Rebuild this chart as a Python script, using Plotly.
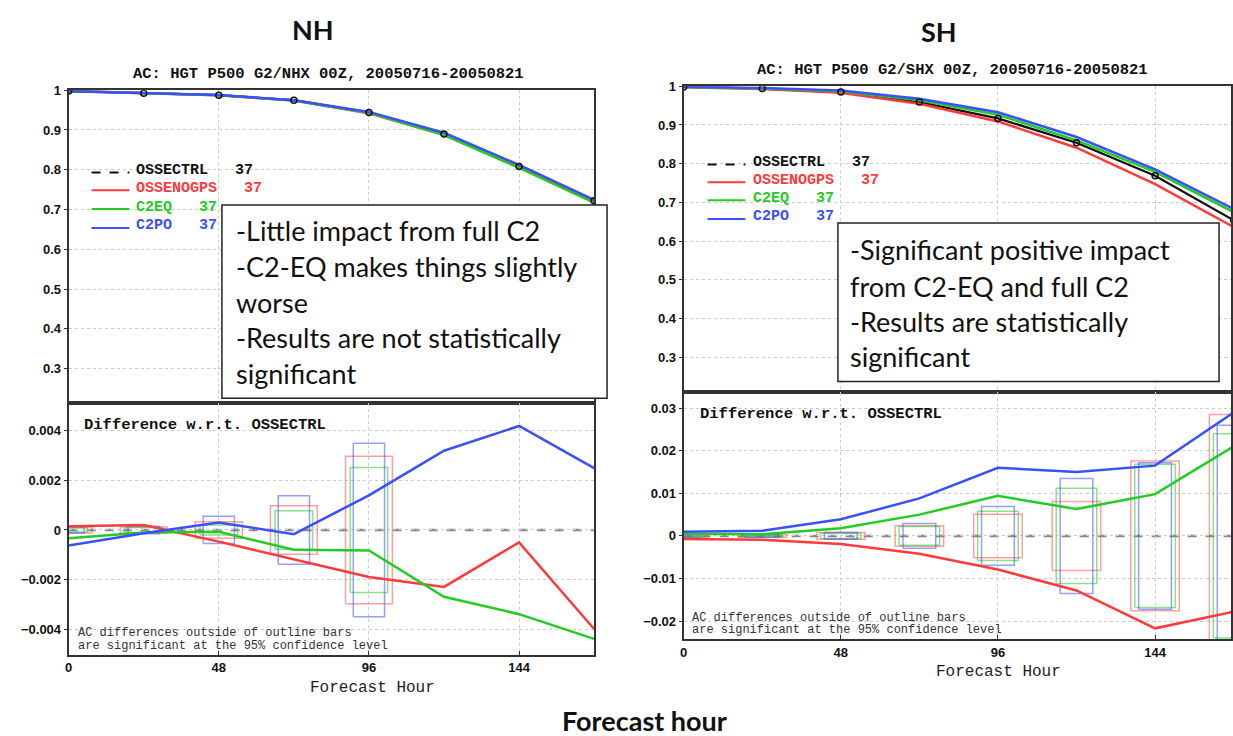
import plotly.graph_objects as go

W, H = 1233, 736

# ---------------- data ----------------
hours = [0, 24, 48, 72, 96, 120, 144, 168]

# NH anomaly correlation
nh_ctrl = [0.998, 0.9925, 0.9875, 0.975, 0.944, 0.890, 0.808, 0.722]
nh_nogps = [0.9982, 0.9927, 0.9870, 0.9738, 0.9421, 0.8877, 0.8075, 0.7180]
nh_c2eq = [0.9977, 0.9924, 0.9874, 0.9742, 0.9432, 0.8873, 0.8046, 0.7176]
nh_c2po = [0.9974, 0.9924, 0.9878, 0.9748, 0.9454, 0.8932, 0.8122, 0.7245]

# NH differences w.r.t. OSSECTRL
nh_d_nogps = [0.00015, 0.0002, -0.00047, -0.0012, -0.0019, -0.0023, -0.0005, -0.0040]
nh_d_c2eq = [-0.00033, -0.0001, -0.00007, -0.0008, -0.00083, -0.0027, -0.0034, -0.0044]
nh_d_c2po = [-0.00063, -0.00013, 0.0003, -0.00017, 0.0014, 0.0032, 0.0042, 0.0025]

# NH 95% confidence bars (half heights) at hours 0..96
nh_bar_hours = [0, 24, 48, 72, 96]
nh_bar_nogps = [0.00012, 0.00012, 0.00033, 0.00098, 0.00298]
nh_bar_c2eq = [0.00008, 0.0001, 0.0002, 0.00078, 0.00252]
nh_bar_c2po = [0.00012, 0.00015, 0.00055, 0.00138, 0.0035]

# SH anomaly correlation
sh_ctrl = [0.998, 0.994, 0.985, 0.959, 0.917, 0.854, 0.769, 0.654]
sh_nogps = [0.9973, 0.9931, 0.9831, 0.9548, 0.9091, 0.8412, 0.7473, 0.6362]
sh_c2eq = [0.9985, 0.9944, 0.9868, 0.9640, 0.9264, 0.8603, 0.7788, 0.6750]
sh_c2po = [0.9990, 0.9952, 0.9889, 0.9678, 0.9330, 0.8690, 0.7855, 0.6830]

# SH differences
sh_d_nogps = [-0.0007, -0.0009, -0.0019, -0.0042, -0.0079, -0.0128, -0.0217, -0.0178]
sh_d_c2eq = [0.0005, 0.0004, 0.0018, 0.0050, 0.0094, 0.0063, 0.0098, 0.0210]
sh_d_c2po = [0.0010, 0.0012, 0.0039, 0.0088, 0.0160, 0.0150, 0.0165, 0.0290]

# SH confidence bars
sh_bar_hours = [0, 24, 48, 72, 96, 120, 144, 168]
sh_bar_nogps = [0.0003, 0.0003, 0.0008, 0.0024, 0.0051, 0.0081, 0.0176, 0.0285]
sh_bar_c2eq = [0.0002, 0.0002, 0.0006, 0.0022, 0.0058, 0.0112, 0.0168, 0.0240]
sh_bar_c2po = [0.0003, 0.0003, 0.0008, 0.0029, 0.0069, 0.0135, 0.0172, 0.0260]

series_names = ["OSSECTRL", "OSSENOGPS", "C2EQ", "C2PO"]
case_count = ["37", "37", "37", "37"]
x_ticks = [0, 48, 96, 144]
ac_ticks = [0.3, 0.4, 0.5, 0.6, 0.7, 0.8, 0.9, 1.0]
nh_diff_ticks = [-0.004, -0.002, 0, 0.002, 0.004]
sh_diff_ticks = [-0.02, -0.01, 0, 0.01, 0.02, 0.03]

nh_notes = ["-Little impact from full C2", "-C2-EQ makes things slightly", "worse",
            "-Results are not statistically", "significant"]
sh_notes = ["-Significant positive impact", "from C2-EQ and full C2",
            "-Results are statistically", "significant"]

# ---------------- style ----------------
BLACK = "#111111"
RED = "#ff3a3a"
GREEN = "#22cc22"
BLUE = "#3a50ff"
LRED = "rgba(255,80,80,0.55)"
LGREEN = "rgba(40,200,40,0.55)"
LBLUE = "rgba(60,80,255,0.55)"
colors = [BLACK, RED, GREEN, BLUE]
MONO = "Liberation Mono"
TICKF = dict(family="Liberation Sans", size=13, color="#111", weight="bold")


def px(p):
    return p / W


def py(p):
    return 1 - p / H


fig = go.Figure()


def add_ac(xa, ya, ctrl, others):
    fig.add_trace(go.Scatter(x=hours, y=ctrl, mode="lines", line=dict(color=BLACK, width=2.2),
                             xaxis=xa, yaxis=ya, showlegend=False, hoverinfo="skip"))
    for vals, c in zip(others, colors[1:]):
        fig.add_trace(go.Scatter(x=hours, y=vals, mode="lines", line=dict(color=c, width=2.5),
                                 xaxis=xa, yaxis=ya, showlegend=False, hoverinfo="skip"))
    fig.add_trace(go.Scatter(x=hours, y=ctrl, mode="markers",
                             marker=dict(symbol="circle-open", size=6, color=BLACK, line=dict(width=1.5)),
                             xaxis=xa, yaxis=ya, showlegend=False, hoverinfo="skip"))


def add_bars(xa, ya, bh, halves, halfw, col):
    for c, h in zip(bh, halves):
        fig.add_trace(go.Scatter(x=[c - halfw, c + halfw, c + halfw, c - halfw, c - halfw],
                                 y=[-h, -h, h, h, -h], mode="lines", line=dict(color=col, width=1.5),
                                 xaxis=xa, yaxis=ya, showlegend=False, hoverinfo="skip"))


def add_diff(xa, ya, diffs):
    for vals, c in zip(diffs, colors[1:]):
        fig.add_trace(go.Scatter(x=hours, y=vals, mode="lines", line=dict(color=c, width=2.5),
                                 xaxis=xa, yaxis=ya, showlegend=False, hoverinfo="skip"))


# NH
add_ac("x", "y", nh_ctrl, [nh_nogps, nh_c2eq, nh_c2po])
add_bars("x2", "y2", nh_bar_hours, nh_bar_nogps, 7.5, LRED)
add_bars("x2", "y2", nh_bar_hours, nh_bar_c2eq, 6.0, LGREEN)
add_bars("x2", "y2", nh_bar_hours, nh_bar_c2po, 5.0, LBLUE)
add_diff("x2", "y2", [nh_d_nogps, nh_d_c2eq, nh_d_c2po])

# SH
add_ac("x3", "y3", sh_ctrl, [sh_nogps, sh_c2eq, sh_c2po])
add_bars("x4", "y4", sh_bar_hours, sh_bar_nogps, 7.4, LRED)
add_bars("x4", "y4", sh_bar_hours, sh_bar_c2eq, 6.2, LGREEN)
add_bars("x4", "y4", sh_bar_hours, sh_bar_c2po, 5.0, LBLUE)
add_diff("x4", "y4", [sh_d_nogps, sh_d_c2eq, sh_d_c2po])

GRID = dict(showgrid=True, gridcolor="#cccccc", griddash="dot", gridwidth=1.2)
FRAME = dict(showline=True, linecolor="#333", linewidth=2, mirror=True, zeroline=False)


def xaxis(dom, rng, labels):
    d = dict(domain=dom, range=rng, tickmode="array", tickvals=x_ticks, **GRID, **FRAME, tickfont=TICKF)
    if labels:
        d.update(showticklabels=True, ticks="inside", ticklen=4, tickcolor="#333")
    else:
        d.update(showticklabels=False, ticks="")
    return d


def yaxis(dom, rng, tv, anchor):
    return dict(domain=dom, range=rng, tickmode="array", tickvals=tv, anchor=anchor, **GRID, **FRAME,
                tickfont=TICKF, ticks="outside", ticklen=3, tickcolor="#333")


nh_xd = [px(65), px(593)]
sh_xd = [px(683), 1.0]
fig.update_layout(
    width=W, height=H, margin=dict(l=0, r=0, t=0, b=0),
    paper_bgcolor="white", plot_bgcolor="white", showlegend=False,
    xaxis=xaxis(nh_xd, [0, 168], False) | dict(anchor="y"),
    yaxis=yaxis([py(400), py(84)], [0.213, 1.0], ac_ticks, "x"),
    xaxis2=xaxis(nh_xd, [0, 168], True) | dict(anchor="y2"),
    yaxis2=yaxis([py(654), py(400)], [-0.00504, 0.00512], nh_diff_ticks, "x2"),
    xaxis3=xaxis(sh_xd, [0, 167.2], False) | dict(anchor="y3"),
    yaxis3=yaxis([py(389), py(80)], [0.2097, 1.0], ac_ticks, "x3"),
    xaxis4=xaxis(sh_xd, [0, 167.2], True) | dict(anchor="y4"),
    yaxis4=yaxis([py(638), py(389)], [-0.02419, 0.03372], sh_diff_ticks, "x4"),
)

shapes = []
ann = []

# zero lines
for xr, yr in [("x2 domain", "y2"), ("x4 domain", "y4")]:
    shapes.append(dict(type="line", xref=xr, yref=yr, x0=0, x1=1, y0=0, y1=0,
                       line=dict(color="#888", width=2.5, dash="dash"), layer="below"))


def A(text, x, y, size, color="#111", family=MONO, weight="normal", xanchor="left"):
    ann.append(dict(text=text, x=px(x), y=py(y), xref="paper", yref="paper", showarrow=False,
                    xanchor=xanchor, yanchor="middle", borderpad=0,
                    font=dict(family=family, size=size, color=color, weight=weight)))


# big titles
A("NH", 311, 23, 27, family="Lato", weight="bold", xanchor="center")
A("SH", 940, 25, 27, family="Lato", weight="bold", xanchor="center")
A("Forecast hour", 644, 720, 27, family="Lato", weight="bold", xanchor="center")

# panel subtitles
A("AC: HGT P500 G2/NHX 00Z, 20050716-20050821", 326, 68, 15.5, weight="bold", xanchor="center")
A("AC: HGT P500 G2/SHX 00Z, 20050716-20050821", 953, 64, 15.5, weight="bold", xanchor="center")

# legends
for (lx, tx, ys) in [(88, 132, [165, 183, 202, 221]), (707, 752, [157, 175, 193, 212])]:
    for name, cnt, c, yy in zip(series_names, case_count, colors, ys):
        shapes.append(dict(type="line", xref="paper", yref="paper", x0=px(lx), x1=px(lx + 38),
                           y0=py(yy + 2), y1=py(yy + 2), line=dict(color=c, width=2,
                           dash="dash" if c == BLACK else "solid")))
        A(f"{name}   {cnt}", tx, yy, 15, color=c, weight="bold")

# difference labels and footnotes
A("Difference w.r.t. OSSECTRL", 79, 422, 15.5, weight="bold")
A("Difference w.r.t. OSSECTRL", 698, 411, 15.5, weight="bold")
A("AC differences outside of outline bars", 73, 632, 12, color="#333")
A("are significant at the 95% confidence level", 73, 645, 12, color="#333")
A("AC differences outside of outline bars", 690, 617, 12, color="#333")
A("are significant at the 95% confidence level", 690, 629, 12, color="#333")
A("Forecast Hour", 370, 688, 16, color="#222", xanchor="center")
A("Forecast Hour", 999, 671, 16, color="#222", xanchor="center")

# comment boxes
shapes.append(dict(type="rect", xref="paper", yref="paper", x0=px(219), x1=px(606), y0=py(395), y1=py(200),
                   line=dict(color="#222", width=1.5), fillcolor="white", layer="above"))
shapes.append(dict(type="rect", xref="paper", yref="paper", x0=px(838), x1=px(1221), y0=py(378), y1=py(218),
                   line=dict(color="#222", width=1.5), fillcolor="white", layer="above"))
for t, yy in zip(nh_notes, [226, 262, 298, 334, 370]):
    A(t, 232, yy, 27, family="Lato")
for t, yy in zip(sh_notes, [245, 282, 318, 353]):
    A(t, 849, yy, 27, family="Lato")

fig.update_layout(shapes=shapes, annotations=ann)
fig.write_html("out.html")
